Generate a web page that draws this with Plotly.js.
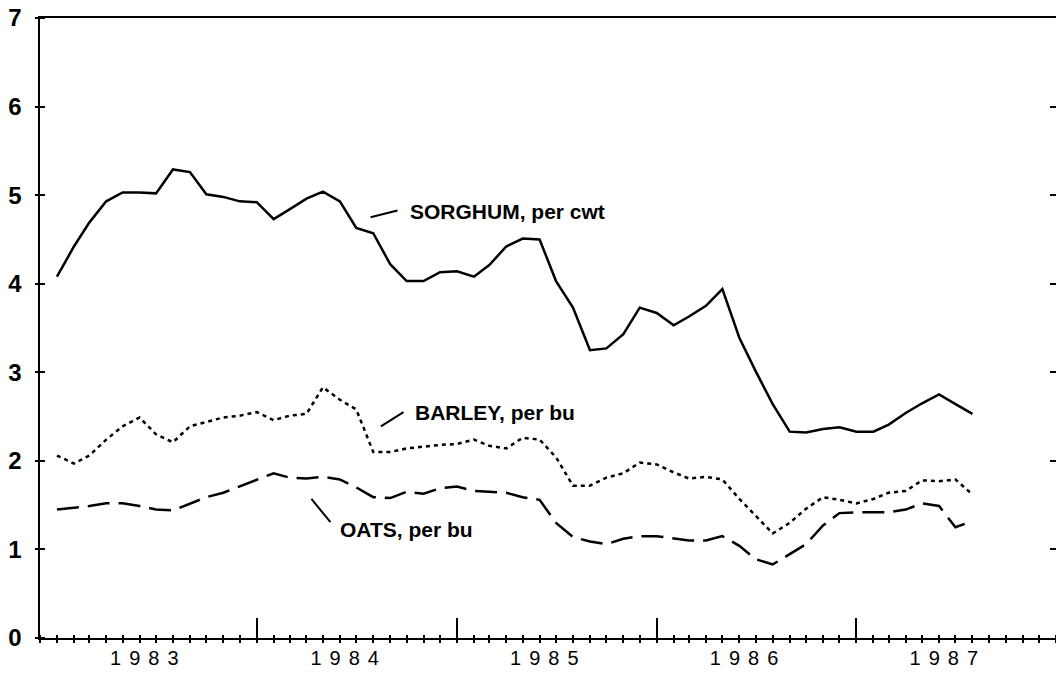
<!DOCTYPE html>
<html>
<head>
<meta charset="utf-8">
<script src="https://cdn.plot.ly/plotly-3.0.1.min.js"></script>
<style>
  html, body { margin: 0; padding: 0; background: #fff; overflow: hidden; }
  #chart { width: 1060px; height: 673px; }
  .x4tick text { letter-spacing: 8px; }
</style>
</head>
<body>
<div id="chart"></div>
<script>
// Monthly prices received by farmers, Jan 1983 - Aug 1987 ($)
const startYear = 1983;
const nMonths = 56;
const months = [];
for (let i = 0; i < nMonths; i++) {
  const y = startYear + Math.floor(i / 12);
  const m = (i % 12) + 1;
  months.push(y + '-' + (m < 10 ? '0' + m : m) + '-01');
}

const sorghum = [4.08, 4.42, 4.69, 4.93, 5.03, 5.03, 5.02, 5.29, 5.26, 5.01,
                 4.98, 4.93, 4.92, 4.73, 4.84, 4.96, 5.04, 4.93, 4.63, 4.57,
                 4.22, 4.03, 4.03, 4.13, 4.14, 4.08, 4.21, 4.42, 4.51, 4.50,
                 4.03, 3.73, 3.25, 3.27, 3.43, 3.73, 3.67, 3.53, 3.63, 3.75,
                 3.94, 3.39, 3.01, 2.64, 2.33, 2.32, 2.36, 2.38, 2.33, 2.33,
                 2.41, 2.54, 2.65, 2.75, 2.64, 2.53];

const barley = [2.06, 1.97, 2.06, 2.24, 2.39, 2.49, 2.30, 2.21, 2.39, 2.44,
                2.49, 2.51, 2.55, 2.46, 2.51, 2.53, 2.83, 2.69, 2.58, 2.10,
                2.10, 2.14, 2.16, 2.18, 2.19, 2.24, 2.17, 2.14, 2.26, 2.24,
                2.04, 1.72, 1.72, 1.81, 1.86, 1.98, 1.96, 1.87, 1.80, 1.82,
                1.79, 1.57, 1.38, 1.18, 1.30, 1.46, 1.59, 1.56, 1.52, 1.57,
                1.64, 1.66, 1.78, 1.77, 1.79, 1.62];

const oats = [1.45, 1.47, 1.49, 1.52, 1.52, 1.49, 1.45, 1.44, 1.52, 1.59,
              1.64, 1.71, 1.78, 1.86, 1.81, 1.80, 1.82, 1.79, 1.70, 1.59,
              1.58, 1.65, 1.63, 1.69, 1.71, 1.66, 1.65, 1.64, 1.59, 1.56,
              1.30, 1.14, 1.09, 1.06, 1.12, 1.15, 1.15, 1.12, 1.10, 1.10,
              1.15, 1.04, 0.89, 0.83, 0.95, 1.06, 1.27, 1.41, 1.42, 1.42,
              1.42, 1.45, 1.52, 1.49, 1.25, 1.32];

const yearLabels = ['1983', '1984', '1985', '1986', '1987'];
const yearLabelDates = ['1983-06-17', '1984-06-17', '1985-06-17', '1986-06-17', '1987-06-17'];
const yearBreaks = ['1984-01-01', '1985-01-01', '1986-01-01', '1987-01-01'];
const yTicks = [0, 1, 2, 3, 4, 5, 6, 7];

const xRange = ['1982-12-01', '1988-01-08'];
const yRange = [0, 7];

const traces = [
  { x: months, y: sorghum, type: 'scatter', mode: 'lines', name: 'SORGHUM, per cwt',
    line: { color: '#000', width: 2.5 }, hoverinfo: 'x+y' },
  { x: months, y: barley, type: 'scatter', mode: 'lines', name: 'BARLEY, per bu',
    line: { color: '#000', width: 2.5, dash: '4px,4px' }, hoverinfo: 'x+y' },
  { x: months, y: oats, type: 'scatter', mode: 'lines', name: 'OATS, per bu',
    line: { color: '#000', width: 2.5, dash: '22px,9px' }, hoverinfo: 'x+y' },
  // empty traces that only register the overlay axes (tick layers)
  { x: [], y: [], type: 'scatter', mode: 'lines', xaxis: 'x2', yaxis: 'y', hoverinfo: 'skip' },
  { x: [], y: [], type: 'scatter', mode: 'lines', xaxis: 'x4', yaxis: 'y', hoverinfo: 'skip' },
  { x: [], y: [], type: 'scatter', mode: 'lines', xaxis: 'x', yaxis: 'y2', hoverinfo: 'skip' },
  { x: [], y: [], type: 'scatter', mode: 'lines', xaxis: 'x', yaxis: 'y3', hoverinfo: 'skip' }
];

const labelFont = { family: 'Liberation Sans, Arial, sans-serif', size: 21, color: '#000', weight: 'bold' };

const layout = {
  width: 1060, height: 673,
  margin: { l: 40, r: 0, t: 18, b: 35 },
  paper_bgcolor: '#fff', plot_bgcolor: '#fff',
  showlegend: false,
  xaxis: {
    type: 'date', range: xRange, showgrid: false, zeroline: false,
    showline: true, linewidth: 2, linecolor: '#000', mirror: true,
    tickmode: 'array', tickvals: yearBreaks, ticks: 'inside', ticklen: 20, tickwidth: 2,
    tickcolor: '#000', showticklabels: false
  },
  // monthly crossing ticks: an axis raised 4px with 8px outward ticks
  xaxis2: {
    type: 'date', range: xRange, overlaying: 'x', anchor: 'free', position: 0.0065,
    showgrid: false, zeroline: false, showline: false, tick0: '1982-12-01', dtick: 'M1',
    ticks: 'outside', ticklen: 8, tickwidth: 2, tickcolor: '#000', showticklabels: false
  },
  xaxis4: {
    type: 'date', range: xRange, overlaying: 'x', anchor: 'y', showgrid: false,
    zeroline: false, showline: false, tickmode: 'array', tickvals: yearLabelDates,
    ticktext: yearLabels, ticks: '', ticklabelstandoff: 6,
    tickfont: { family: 'Liberation Sans, Arial, sans-serif', size: 20, color: '#000' }
  },
  yaxis: {
    range: yRange, showgrid: false, zeroline: false,
    showline: true, linewidth: 2.5, linecolor: '#000',
    tickmode: 'array', tickvals: yTicks, ticks: '', ticklabelstandoff: 11,
    tickfont: { family: 'Liberation Sans, Arial, sans-serif', size: 24, color: '#000', weight: 'bold' }
  },
  // crossing ticks on the left axis: an axis shifted 5px right with 10px outward ticks
  yaxis2: {
    range: yRange, overlaying: 'y', anchor: 'free', position: 0.0049, side: 'left',
    showgrid: false, zeroline: false, showline: false, tickmode: 'array', tickvals: yTicks,
    ticks: 'outside', ticklen: 10, tickwidth: 2, tickcolor: '#000', showticklabels: false
  },
  yaxis3: {
    range: yRange, overlaying: 'y', anchor: 'x', side: 'right', showgrid: false,
    zeroline: false, showline: false, tickmode: 'array', tickvals: yTicks.slice(1, 7),
    ticks: 'inside', ticklen: 10, tickwidth: 2, tickcolor: '#000', showticklabels: false
  },
  annotations: [
    { x: '1984-10-04', y: 4.81, xref: 'x', yref: 'y', text: 'SORGHUM, per cwt', showarrow: false,
      xanchor: 'left', yanchor: 'middle', font: labelFont },
    { x: '1984-10-13', y: 2.55, xref: 'x', yref: 'y', text: 'BARLEY, per bu', showarrow: false,
      xanchor: 'left', yanchor: 'middle', font: labelFont },
    { x: '1984-05-28', y: 1.23, xref: 'x', yref: 'y', text: 'OATS, per bu', showarrow: false,
      xanchor: 'left', yanchor: 'middle', font: labelFont },
    { x: '1984-07-27', y: 4.75, ax: '1984-09-17', ay: 4.83, xref: 'x', yref: 'y', axref: 'x', ayref: 'y',
      text: '', showarrow: true, arrowhead: 0, arrowwidth: 2, arrowcolor: '#000' },
    { x: '1984-08-15', y: 2.39, ax: '1984-09-28', ay: 2.56, xref: 'x', yref: 'y', axref: 'x', ayref: 'y',
      text: '', showarrow: true, arrowhead: 0, arrowwidth: 2, arrowcolor: '#000' },
    { x: '1984-04-10', y: 1.57, ax: '1984-05-17', ay: 1.29, xref: 'x', yref: 'y', axref: 'x', ayref: 'y',
      text: '', showarrow: true, arrowhead: 0, arrowwidth: 2, arrowcolor: '#000' }
  ]
};

Plotly.newPlot('chart', traces, layout, { staticPlot: true, displayModeBar: false });
</script>
</body>
</html>
